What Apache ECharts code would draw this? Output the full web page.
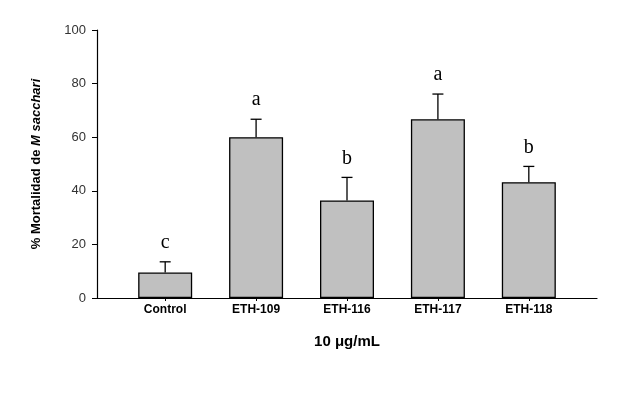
<!DOCTYPE html>
<html>
<head>
<meta charset="utf-8">
<script src="https://cdn.jsdelivr.net/npm/echarts@6/dist/echarts.min.js"></script>
<style>html,body{margin:0;padding:0;background:#fff;}#c{width:630px;height:395px;}</style>
</head>
<body>
<div id="c"></div>
<script>
const categories = ['Control', 'ETH-109', 'ETH-116', 'ETH-117', 'ETH-118'];
const means = [9.5, 60.0, 36.4, 66.7, 43.2];
const errors = [4.0, 6.7, 8.6, 9.4, 5.9];
const letters = ['c', 'a', 'b', 'a', 'b'];
const yTicks = [0, 20, 40, 60, 80, 100];

const positions = categories.map((c, i) => i + 1);
const barData = positions.map((p, i) => [p, means[i]]);
const errData = positions.map((p, i) => [p, means[i], errors[i], i]);

const chart = echarts.init(document.getElementById('c'), null, {renderer: 'canvas'});
chart.setOption({
  animation: false,
  backgroundColor: '#fff',
  grid: {left: 97, right: 33, top: 30, bottom: 97, containLabel: false},
  xAxis: {
    type: 'value', min: 0.25, max: 5.75,
    name: '10 μg/mL', nameLocation: 'middle', nameGap: 36,
    nameTextStyle: {fontFamily: 'Liberation Sans', fontWeight: 'bold', fontSize: 15, color: '#000'},
    axisLine: {show: true, onZero: false, lineStyle: {color: '#000', width: 1.2}},
    axisTick: {show: true, customValues: positions, length: 3, lineStyle: {color: '#000'}},
    axisLabel: {show: true, customValues: positions, margin: 6,
      formatter: v => categories[Math.round(v) - 1] || '',
      fontFamily: 'Liberation Sans', fontWeight: 'bold', fontSize: 12, color: '#000'},
    splitLine: {show: false}
  },
  yAxis: {
    type: 'value', min: 0, max: 100, interval: 20,
    name: '{n|% Mortalidad de }{i|M sacchari}', nameLocation: 'middle', nameGap: 54, nameRotate: 90,
    nameTextStyle: {rich: {
      n: {fontFamily: 'Liberation Sans', fontWeight: 'bold', fontSize: 13, color: '#000'},
      i: {fontFamily: 'Liberation Sans', fontWeight: 'bold', fontStyle: 'italic', fontSize: 13, color: '#000'}
    }},
    axisLine: {show: true, lineStyle: {color: '#000', width: 1.2}},
    axisTick: {show: true, length: 5, lineStyle: {color: '#000'}},
    axisLabel: {margin: 11, fontFamily: 'Liberation Sans', fontSize: 13, color: '#333',
      customValues: yTicks},
    splitLine: {show: false}
  },
  series: [
    {
      type: 'bar', data: barData, barWidth: 54,
      itemStyle: {color: '#c0c0c0', borderColor: '#000', borderWidth: 1.3}
    },
    {
      type: 'custom', data: errData, z: 10,
      renderItem: (params, api) => {
        const x = api.value(0), m = api.value(1), e = api.value(2), idx = api.value(3);
        const base = api.coord([x, m]);
        const top = api.coord([x, m + e]);
        const cw = 5.5;
        return {
          type: 'group',
          children: [
            {type: 'line', shape: {x1: base[0], y1: base[1], x2: top[0], y2: top[1]}, style: {stroke: '#000', lineWidth: 1.3}},
            {type: 'line', shape: {x1: top[0] - cw, y1: top[1], x2: top[0] + cw, y2: top[1]}, style: {stroke: '#000', lineWidth: 1.3}},
            {type: 'text', style: {text: letters[idx], x: top[0], y: top[1] - 9, textAlign: 'center', textVerticalAlign: 'bottom',
              font: '20px "Liberation Serif"', fill: '#000'}}
          ]
        };
      }
    }
  ]
});
</script>
</body>
</html>
